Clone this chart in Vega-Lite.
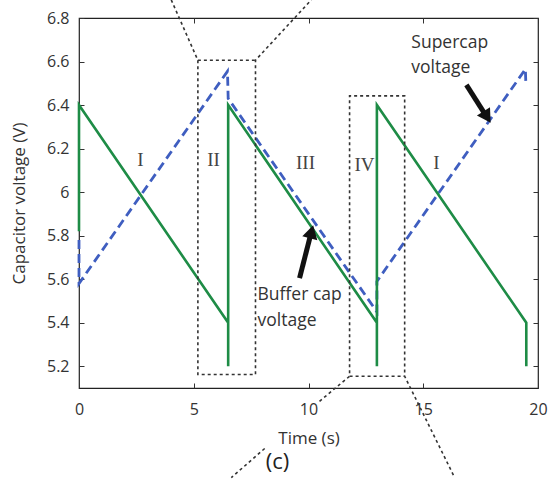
{
  "$schema": "https://vega.github.io/schema/vega-lite/v6.json",
  "autosize": "none",
  "width": 459,
  "height": 370,
  "padding": {"left": 79, "top": 18, "right": 10, "bottom": 93},
  "background": "white",
  "config": {
    "view": {"stroke": "#222", "strokeWidth": 1.2},
    "axis": {
      "grid": false,
      "domain": false,
      "labelFlush": false,
      "tickColor": "#333",
      "tickSize": -5,
      "tickWidth": 1,
      "labelColor": "#333",
      "labelFont": "Open Sans",
      "labelFontSize": 16,
      "titleFont": "Open Sans",
      "titleFontSize": 17,
      "titleFontWeight": "normal",
      "titleColor": "#333"
    }
  },
  "datasets": {
    "curves": [
      {"series": "Buffer cap", "i": 0, "t": 0, "v": 5.82},
      {"series": "Buffer cap", "i": 1, "t": 0, "v": 6.4},
      {"series": "Buffer cap", "i": 2, "t": 6.5, "v": 5.4},
      {"series": "Buffer cap", "i": 3, "t": 6.5, "v": 5.2},
      {"series": "Buffer cap", "i": 4, "t": 6.5, "v": 6.4},
      {"series": "Buffer cap", "i": 5, "t": 12.98, "v": 5.4},
      {"series": "Buffer cap", "i": 6, "t": 12.98, "v": 5.2},
      {"series": "Buffer cap", "i": 7, "t": 12.98, "v": 6.4},
      {"series": "Buffer cap", "i": 8, "t": 19.49, "v": 5.4},
      {"series": "Buffer cap", "i": 9, "t": 19.49, "v": 5.2},
      {"series": "Supercap", "i": 0, "t": 0, "v": 5.78},
      {"series": "Supercap", "i": 1, "t": 0, "v": 5.58},
      {"series": "Supercap", "i": 2, "t": 6.47, "v": 6.555},
      {"series": "Supercap", "i": 3, "t": 6.5, "v": 6.43},
      {"series": "Supercap", "i": 4, "t": 12.98, "v": 5.45},
      {"series": "Supercap", "i": 5, "t": 12.98, "v": 5.59},
      {"series": "Supercap", "i": 6, "t": 19.45, "v": 6.565},
      {"series": "Supercap", "i": 7, "t": 19.47, "v": 6.5}
    ],
    "guides": [
      {"g": "box1", "i": 0, "x": 4.02, "y": 6.883},
      {"g": "box1", "i": 1, "x": 5.18, "y": 6.606},
      {"g": "box1", "i": 2, "x": 5.18, "y": 5.162},
      {"g": "box1", "i": 3, "x": 7.69, "y": 5.162},
      {"g": "box1", "i": 4, "x": 7.69, "y": 6.606},
      {"g": "box1", "i": 5, "x": 10.12, "y": 6.883},
      {"g": "box1top", "i": 0, "x": 5.18, "y": 6.606},
      {"g": "box1top", "i": 1, "x": 7.69, "y": 6.606},
      {"g": "box2", "i": 0, "x": 10.48, "y": 5.039},
      {"g": "box2", "i": 1, "x": 11.79, "y": 5.154},
      {"g": "box2", "i": 2, "x": 11.79, "y": 6.442},
      {"g": "box2", "i": 3, "x": 14.19, "y": 6.442},
      {"g": "box2", "i": 4, "x": 14.19, "y": 5.154},
      {"g": "box2", "i": 5, "x": 16.37, "y": 4.688},
      {"g": "box2bot", "i": 0, "x": 11.79, "y": 5.154},
      {"g": "box2bot", "i": 1, "x": 14.19, "y": 5.154},
      {"g": "tail", "i": 0, "x": 8.09, "y": 4.822},
      {"g": "tail", "i": 1, "x": 6.635, "y": 4.688}
    ],
    "arrows": [
      {"a": "super", "x": 16.88, "y": 6.4925, "x2": 17.71, "y2": 6.355, "hx": 17.78, "hy": 6.345, "ang": 147.6},
      {"a": "buffer", "x": 9.61, "y": 5.605, "x2": 10.1, "y2": 5.807, "hx": 10.13, "hy": 5.818, "ang": 14.5}
    ],
    "roman": [
      {"text": "I", "x": 2.68, "y": 6.148},
      {"text": "II", "x": 5.86, "y": 6.148},
      {"text": "III", "x": 9.87, "y": 6.135},
      {"text": "IV", "x": 12.44, "y": 6.125},
      {"text": "I", "x": 15.57, "y": 6.135}
    ],
    "notes": [
      {"text": "Supercap", "x": 14.48, "y": 6.685},
      {"text": "voltage", "x": 14.48, "y": 6.571},
      {"text": "Buffer cap", "x": 7.78, "y": 5.529},
      {"text": "voltage", "x": 7.78, "y": 5.409}
    ],
    "panel": [
      {"text": "(c)", "x": 8.65, "y": 4.762}
    ]
  },
  "resolve": {"axis": {"x": "independent", "y": "independent"}},
  "layer": [
    {
      "data": {"name": "curves"},
      "transform": [{"filter": "datum.series === 'Supercap'"}],
      "mark": {"type": "line", "color": "#3f5ec0", "strokeWidth": 2.8, "strokeDash": [9, 5], "clip": false},
      "encoding": {
        "x": {"field": "t", "type": "quantitative", "scale": {"domain": [0, 20], "nice": false, "zero": false},
              "axis": {"orient": "top", "values": [0, 5, 10, 15, 20], "labels": false, "title": null}},
        "y": {"field": "v", "type": "quantitative", "scale": {"domain": [5.1, 6.8], "nice": false, "zero": false},
              "axis": {"orient": "right", "values": [5.2, 5.4, 5.6, 5.8, 6, 6.2, 6.4, 6.6, 6.8], "labels": false, "title": null}},
        "order": {"field": "i", "type": "quantitative"}
      }
    },
    {
      "data": {"name": "curves"},
      "transform": [{"filter": "datum.series === 'Buffer cap'"}],
      "mark": {"type": "line", "color": "#1e8c46", "strokeWidth": 2.6, "clip": false},
      "encoding": {
        "x": {"field": "t", "type": "quantitative",
              "axis": {"orient": "bottom", "values": [0, 5, 10, 15, 20], "title": "Time (s)", "labelPadding": 18, "titlePadding": 13}},
        "y": {"field": "v", "type": "quantitative",
              "axis": {"orient": "left", "values": [5.2, 5.4, 5.6, 5.8, 6, 6.2, 6.4, 6.6, 6.8], "format": "~g", "title": "Capacitor voltage (V)", "labelPadding": 15, "titlePadding": 18}},
        "order": {"field": "i", "type": "quantitative"}
      }
    },
    {
      "data": {"name": "guides"},
      "mark": {"type": "line", "color": "#333", "strokeWidth": 1.6, "strokeDash": [3, 3], "clip": false},
      "encoding": {
        "x": {"field": "x", "type": "quantitative", "axis": null},
        "y": {"field": "y", "type": "quantitative", "axis": null},
        "detail": {"field": "g"},
        "order": {"field": "i", "type": "quantitative"}
      }
    },
    {
      "data": {"name": "arrows"},
      "mark": {"type": "rule", "color": "#111", "strokeWidth": 5},
      "encoding": {
        "x": {"field": "x", "type": "quantitative", "axis": null},
        "y": {"field": "y", "type": "quantitative", "axis": null},
        "x2": {"field": "x2"},
        "y2": {"field": "y2"}
      }
    },
    {
      "data": {"name": "arrows"},
      "mark": {"type": "point", "shape": "triangle-up", "filled": true, "color": "#111", "size": 240, "opacity": 1},
      "encoding": {
        "x": {"field": "hx", "type": "quantitative", "axis": null},
        "y": {"field": "hy", "type": "quantitative", "axis": null},
        "angle": {"field": "ang", "type": "quantitative", "scale": null}
      }
    },
    {
      "data": {"name": "roman"},
      "mark": {"type": "text", "font": "Liberation Serif", "fontSize": 19, "color": "#444", "align": "center", "baseline": "middle"},
      "encoding": {
        "x": {"field": "x", "type": "quantitative", "axis": null},
        "y": {"field": "y", "type": "quantitative", "axis": null},
        "text": {"field": "text"}
      }
    },
    {
      "data": {"name": "notes"},
      "mark": {"type": "text", "font": "Open Sans", "fontSize": 17.5, "color": "#333", "align": "left", "baseline": "middle"},
      "encoding": {
        "x": {"field": "x", "type": "quantitative", "axis": null},
        "y": {"field": "y", "type": "quantitative", "axis": null},
        "text": {"field": "text"}
      }
    },
    {
      "data": {"name": "panel"},
      "mark": {"type": "text", "font": "Open Sans", "fontSize": 22, "color": "#222", "align": "center", "baseline": "middle"},
      "encoding": {
        "x": {"field": "x", "type": "quantitative", "axis": null},
        "y": {"field": "y", "type": "quantitative", "axis": null},
        "text": {"field": "text"}
      }
    }
  ]
}
